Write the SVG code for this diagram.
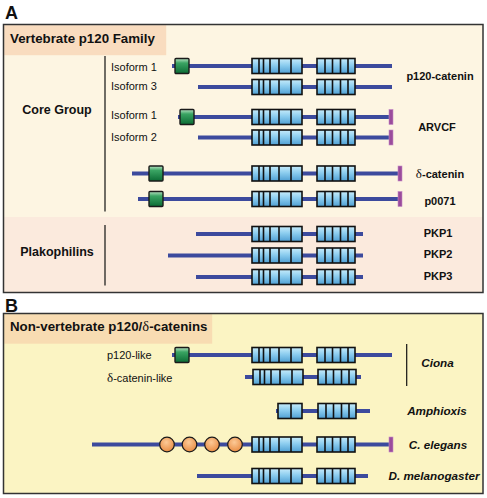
<svg xmlns="http://www.w3.org/2000/svg" width="487" height="498" viewBox="0 0 487 498">
<defs>
<linearGradient id="gArm" x1="0" y1="0" x2="0" y2="1">
<stop offset="0" stop-color="#c8ecfb"/><stop offset="0.45" stop-color="#8ccdef"/><stop offset="1" stop-color="#4f9fd3"/>
</linearGradient>
<linearGradient id="gPdz" x1="0" y1="0" x2="0" y2="1">
<stop offset="0" stop-color="#b9e3c4"/><stop offset="0.3" stop-color="#3aa463"/><stop offset="1" stop-color="#0b6b34"/>
</linearGradient>
<radialGradient id="gZf" cx="0.45" cy="0.35" r="0.7">
<stop offset="0" stop-color="#fcc996"/><stop offset="1" stop-color="#e8893e"/>
</radialGradient>
<g id="armA"><rect x="0" y="-7.5" width="50" height="15" class="arm"/><path class="div" d="M7 -7.5v15M11.5 -7.5v15M18 -7.5v15M27 -7.5v15M39 -7.5v15"/></g>
<g id="armB"><rect x="0" y="-7.5" width="38" height="15" class="arm"/><path class="div" d="M8 -7.5v15M15.5 -7.5v15M23.5 -7.5v15M31 -7.5v15"/></g>
<g id="armC"><rect x="0" y="-7.5" width="24" height="15" class="arm"/><path class="div" d="M13 -7.5v15"/></g>
<rect id="pdz" x="0" y="-7.5" width="14" height="15" rx="1" fill="url(#gPdz)" stroke="#1a1a1a" stroke-width="1.4"/>
<rect id="cap" x="0" y="-7.5" width="4" height="15" fill="#9a4c9c" stroke="#c58ac6" stroke-width="0.6"/>
<circle id="zf" cx="0" cy="0" r="7.3" fill="url(#gZf)" stroke="#1a1a1a" stroke-width="1.2"/>
</defs>
<style>
.arm{fill:url(#gArm);stroke:#111;stroke-width:1.6}
.div{stroke:#111;stroke-width:1.6;fill:none}
.ln{stroke:#3c4a9d;stroke-width:4;fill:none}
.frame{fill:none;stroke:#333;stroke-width:1.5}
.vbar{stroke:#111;stroke-width:1.2}
text{font-family:"Liberation Sans",Arial,sans-serif;fill:#111}
.pl{font-size:18px;font-weight:bold}
.hd{font-size:13.3px;font-weight:bold}
.grp{font-size:12.5px;font-weight:bold;text-anchor:middle}
.iso{font-size:11px}
.nm{font-size:11px;font-weight:bold;text-anchor:middle}
.sp{font-size:11.7px;font-weight:bold;font-style:italic;text-anchor:middle}
.dl{font-family:"Liberation Serif","Times New Roman",serif}
</style>

<!-- Panel A background -->
<g id="panelA">
<rect x="3.5" y="24.5" width="479.5" height="268" fill="#fdf5e2"/>
<rect x="4.2" y="217" width="478" height="75" fill="#fbeadd"/>
<rect x="4.2" y="25.2" width="162" height="30" fill="#f9dcbf"/>
<rect x="3.5" y="24.5" width="479.5" height="268" class="frame"/>
<text x="5" y="19" class="pl">A</text>
<text x="10" y="43" class="hd">Vertebrate p120 Family</text>
<text x="57" y="114" class="grp">Core Group</text>
<text x="57" y="255.5" class="grp">Plakophilins</text>
</g>

<!-- Panel B background -->
<g id="panelB">
<rect x="3.5" y="313.5" width="479.5" height="180" fill="#fbf4c3"/>
<rect x="4.2" y="314.2" width="208" height="29.5" fill="#f8dcb2"/>
<rect x="3.5" y="313.5" width="479.5" height="180" class="frame"/>
<text x="5" y="312" class="pl">B</text>
<text x="10" y="331" class="hd">Non-vertebrate p120/<tspan class="dl" font-weight="normal" font-size="14.5px">δ</tspan>-catenins</text>
</g>

<g id="connectors">
<line x1="105" y1="56" x2="105" y2="211.5" class="vbar"/>
<line x1="105" y1="225" x2="105" y2="285.5" class="vbar"/>
<line x1="406.7" y1="344" x2="406.7" y2="386" class="vbar"/>
</g>

<g id="p120-iso1">
<text x="111" y="71" class="iso">Isoform 1</text>
<line x1="172" y1="66" x2="392" y2="66" class="ln"/>
<use href="#pdz" x="175" y="66"/>
<use href="#armA" x="252" y="66"/><use href="#armB" x="317" y="66"/>
</g>
<g id="p120-iso3">
<text x="111" y="89.5" class="iso">Isoform 3</text>
<line x1="198" y1="87" x2="392" y2="87" class="ln"/>
<use href="#armA" x="252" y="87"/><use href="#armB" x="317" y="87"/>
</g>
<text id="lbl-p120" x="440" y="80" class="nm">p120-catenin</text>

<g id="arvcf-iso1">
<text x="111" y="118.5" class="iso">Isoform 1</text>
<line x1="178" y1="117" x2="390" y2="117" class="ln"/>
<use href="#pdz" x="180" y="117"/>
<use href="#armA" x="252" y="117"/><use href="#armB" x="317" y="117"/>
<use href="#cap" x="389" y="117"/>
</g>
<g id="arvcf-iso2">
<text x="111" y="140.5" class="iso">Isoform 2</text>
<line x1="198" y1="137.5" x2="390" y2="137.5" class="ln"/>
<use href="#armA" x="252" y="137.5"/><use href="#armB" x="317" y="137.5"/>
<use href="#cap" x="389" y="137.5"/>
</g>
<text id="lbl-arvcf" x="437" y="131" class="nm">ARVCF</text>

<g id="delta-catenin">
<line x1="132" y1="173.5" x2="399" y2="173.5" class="ln"/>
<use href="#pdz" x="149" y="173.5"/>
<use href="#armA" x="252" y="173.5"/><use href="#armB" x="317" y="173.5"/>
<use href="#cap" x="398" y="173.5"/>
<text x="440" y="178" class="nm"><tspan class="dl" font-weight="normal" font-size="13px">δ</tspan>-catenin</text>
</g>
<g id="p0071">
<line x1="138" y1="199" x2="399" y2="199" class="ln"/>
<use href="#pdz" x="149" y="199"/>
<use href="#armA" x="252" y="199"/><use href="#armB" x="317" y="199"/>
<use href="#cap" x="398" y="199"/>
<text x="440" y="205" class="nm">p0071</text>
</g>

<g id="pkp1">
<line x1="196" y1="234" x2="363" y2="234" class="ln"/>
<use href="#armA" x="252" y="234"/><use href="#armB" x="317" y="234"/>
<text x="438" y="236.5" class="nm">PKP1</text>
</g>
<g id="pkp2">
<line x1="168" y1="255.5" x2="363" y2="255.5" class="ln"/>
<use href="#armA" x="252" y="255.5"/><use href="#armB" x="317" y="255.5"/>
<text x="438" y="258" class="nm">PKP2</text>
</g>
<g id="pkp3">
<line x1="196" y1="277" x2="363" y2="277" class="ln"/>
<use href="#armA" x="252" y="277"/><use href="#armB" x="317" y="277"/>
<text x="438" y="279.5" class="nm">PKP3</text>
</g>

<g id="ciona-p120">
<text x="107" y="359" class="iso">p120-like</text>
<line x1="172" y1="355" x2="392" y2="355" class="ln"/>
<use href="#pdz" x="175" y="355"/>
<use href="#armA" x="252" y="355"/><use href="#armB" x="317" y="355"/>
</g>
<g id="ciona-delta">
<text x="107" y="381.5" class="iso"><tspan class="dl" font-size="13px">δ</tspan>-catenin-like</text>
<line x1="245" y1="377" x2="361" y2="377" class="ln"/>
<use href="#armA" x="253" y="377"/><use href="#armB" x="318" y="377"/>
</g>
<text id="lbl-ciona" x="437.5" y="367" class="sp">Ciona</text>

<g id="amphioxis">
<line x1="276" y1="411" x2="370" y2="411" class="ln"/>
<use href="#armC" x="278" y="411"/><use href="#armB" x="318" y="411"/>
<text x="437" y="415" class="sp">Amphioxis</text>
</g>
<g id="c-elegans">
<line x1="92" y1="444.5" x2="390" y2="444.5" class="ln"/>
<use href="#zf" x="167" y="444.5"/><use href="#zf" x="189.5" y="444.5"/><use href="#zf" x="212" y="444.5"/><use href="#zf" x="235" y="444.5"/>
<use href="#armA" x="252" y="444.5"/><use href="#armB" x="317" y="444.5"/>
<use href="#cap" x="389" y="444.5"/>
<text x="438" y="448.5" class="sp">C. elegans</text>
</g>
<g id="d-melanogaster">
<line x1="197" y1="476" x2="368" y2="476" class="ln"/>
<use href="#armA" x="252" y="476"/><use href="#armB" x="317" y="476"/>
<text x="434" y="480" class="sp">D. melanogaster</text>
</g>
</svg>
